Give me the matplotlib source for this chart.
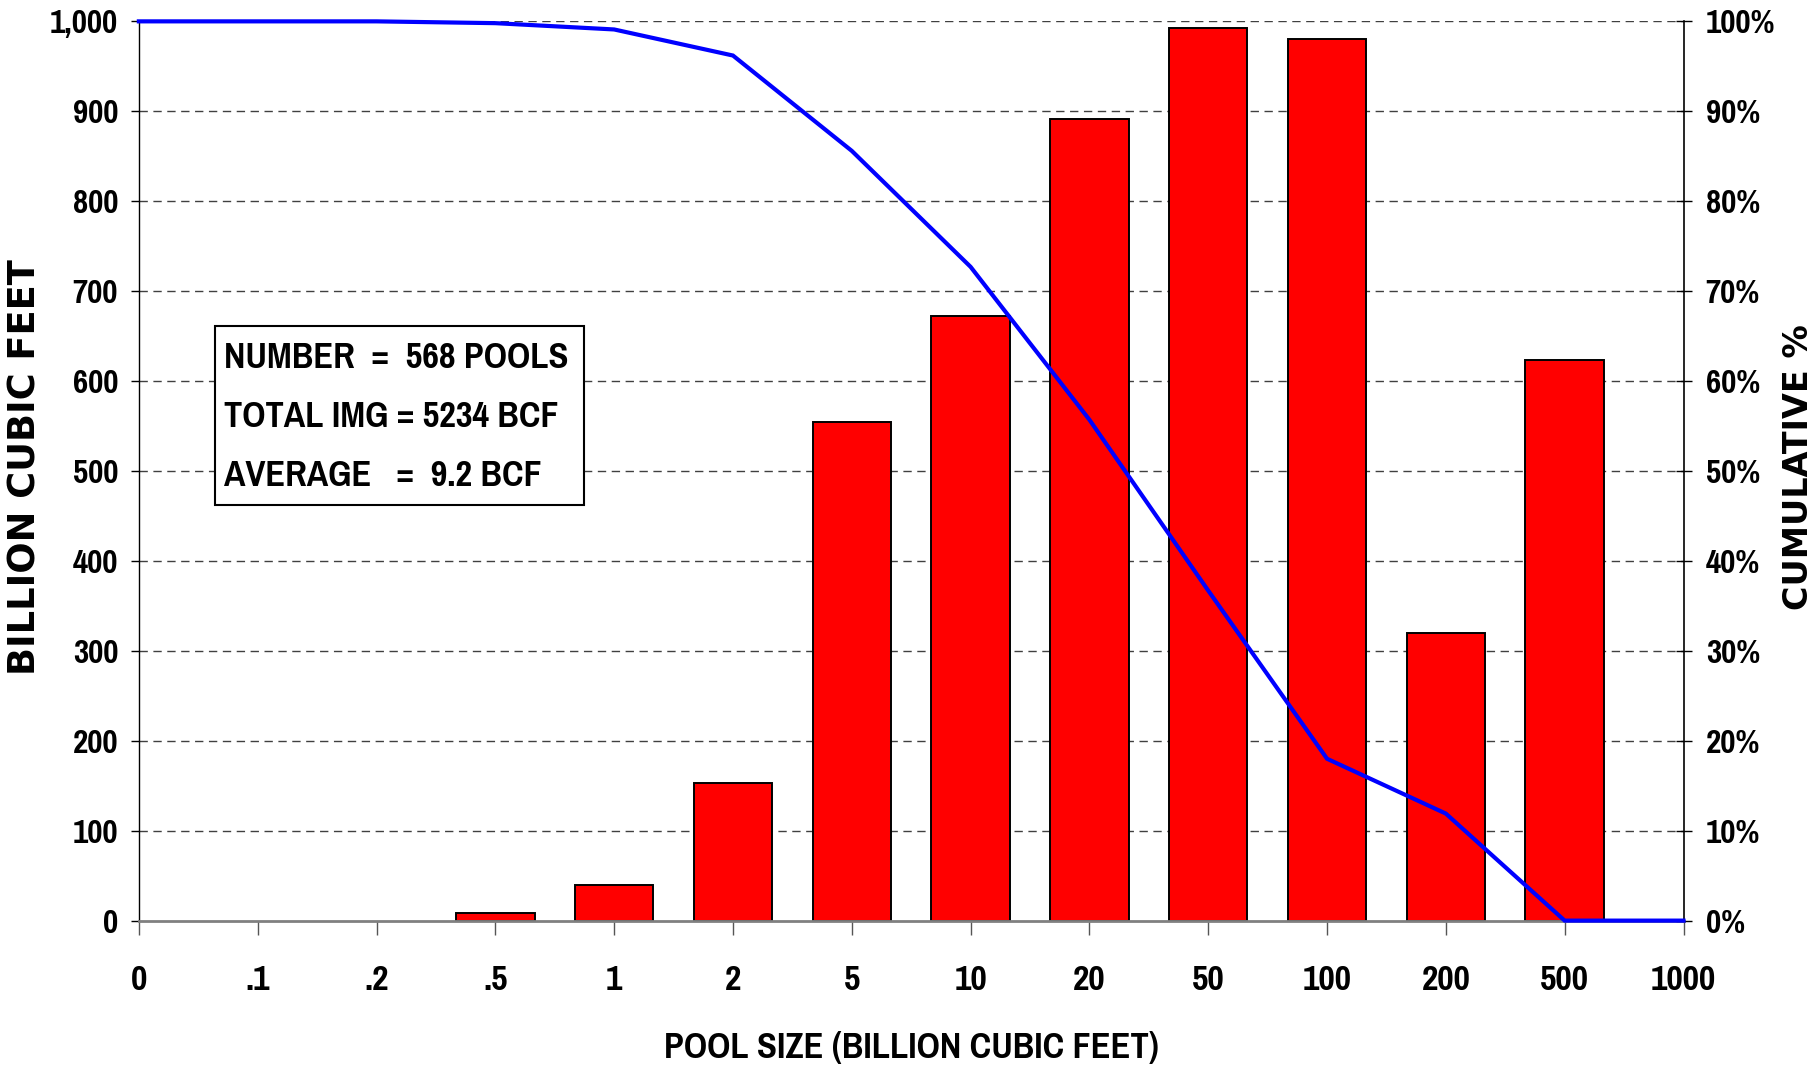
import matplotlib
matplotlib.use("Agg")
import matplotlib.pyplot as plt
from matplotlib import font_manager
from matplotlib.ticker import FixedLocator, FuncFormatter

# ---------------- data ----------------
size_labels = ["0", ".1", ".2", ".5", "1", "2", "5", "10", "20", "50", "100", "200", "500", "1000"]
bar_labels = [".5", "1", "2", "5", "10", "20", "50", "100", "200", "500"]
bar_values = [8, 40, 153, 554, 672, 891, 993, 980, 320, 623]          # billion cubic feet
cumulative_pct = [100, 100, 100, 99.8, 99.1, 96.2, 85.6, 72.7, 55.7, 36.7, 18.0, 11.9, 0, 0]
y_ticks = [0, 100, 200, 300, 400, 500, 600, 700, 800, 900, 1000]
pct_ticks = [0, 10, 20, 30, 40, 50, 60, 70, 80, 90, 100]
box_lines = ["NUMBER  =  568 POOLS", "TOTAL IMG = 5234 BCF", "AVERAGE   =  9.2 BCF"]

# ---------------- fonts ----------------
names = {f.name for f in font_manager.fontManager.ttflist}
NARROW = "DejaVu Sans"
for cand in ["Liberation Sans Narrow", "Arial Narrow", "Pragati Narrow", "PT Sans Narrow",
             "Roboto Condensed", "Archivo Narrow"]:
    if cand in names:
        NARROW = cand
        break
WIDE = "DejaVu Sans"
NK = dict(fontfamily=NARROW, fontweight="bold")
if NARROW == "DejaVu Sans":
    NK["fontstretch"] = "condensed"

fig = plt.figure(figsize=(18.2, 10.68), dpi=100)
ax = fig.add_axes([0.0763, 0.138, 0.925 - 0.0763, 0.980 - 0.138])

pos = {lab: i for i, lab in enumerate(size_labels)}
bx = [pos[l] for l in bar_labels]

# grid behind bars
for v in y_ticks[1:]:
    ax.axhline(v, color="#404040", lw=1.0, ls=(0, (6, 4)), zorder=0)

ax.bar(bx, bar_values, width=0.66, color="#FF0000", edgecolor="black",
       linewidth=1.4, zorder=2)

ax.set_xlim(0, len(size_labels) - 1)
ax.set_ylim(0, 1000)

ax.xaxis.set_major_locator(FixedLocator(range(len(size_labels))))
ax.set_xticklabels(size_labels, fontsize=28, **NK)
ax.tick_params(axis="x", direction="out", length=10, width=1.0, color="#555555", pad=21)

ax.yaxis.set_major_locator(FixedLocator(y_ticks))
ax.yaxis.set_major_formatter(FuncFormatter(lambda v, p: f"{int(v):,}"))
ax.tick_params(axis="y", direction="out", length=6, width=1.0, labelsize=26, pad=9)
for lab in ax.get_yticklabels():
    lab.set(**NK)

ax.spines["top"].set_visible(False)
ax.spines["right"].set_visible(False)
ax.spines["left"].set_color("black")
ax.spines["left"].set_linewidth(1.0)
ax.spines["bottom"].set_color("#808080")
ax.spines["bottom"].set_linewidth(2.0)
ax.spines["bottom"].set_zorder(3)

# cumulative line on secondary axis
ax2 = ax.twinx()
ax2.set_ylim(0, 100)
ax2.plot(range(len(size_labels)), cumulative_pct, color="#0000FF", lw=3.0, zorder=5,
         solid_joinstyle="miter", clip_on=False)
ax2.yaxis.set_major_locator(FixedLocator(pct_ticks))
ax2.yaxis.set_major_formatter(FuncFormatter(lambda v, p: f"{int(v)}%"))
ax2.tick_params(axis="y", direction="inout", length=12, width=1.0, labelsize=26, pad=10)
for lab in ax2.get_yticklabels():
    lab.set(**NK)
for s in ["top", "bottom", "left"]:
    ax2.spines[s].set_visible(False)
ax2.spines["right"].set_color("black")
ax2.spines["right"].set_linewidth(1.2)

# info box
ax2.add_patch(plt.Rectangle((0.049, 0.462), 0.288 - 0.049, 0.661 - 0.462,
                            transform=ax.transAxes, facecolor="white",
                            edgecolor="black", lw=1.5, zorder=6))
for i, line in enumerate(box_lines):
    ax2.text(0.055, 0.626 - i * 0.0655, line, transform=ax.transAxes,
             fontsize=28.5, ha="left", va="center", zorder=7, **NK)

# axis titles
fig.text(0.014, 0.563, "BILLION CUBIC FEET", rotation=90, ha="center", va="center",
         fontfamily=WIDE, fontweight="bold", fontsize=26.5)
fig.text(0.988, 0.563, "CUMULATIVE %", rotation=90, ha="center", va="center",
         fontfamily=WIDE, fontweight="bold", fontsize=24)
fig.text(0.5006, 0.019, "POOL SIZE (BILLION CUBIC FEET)", ha="center", va="center",
         fontsize=28.5, **NK)

fig.savefig("out.png", dpi=100, facecolor="white")
